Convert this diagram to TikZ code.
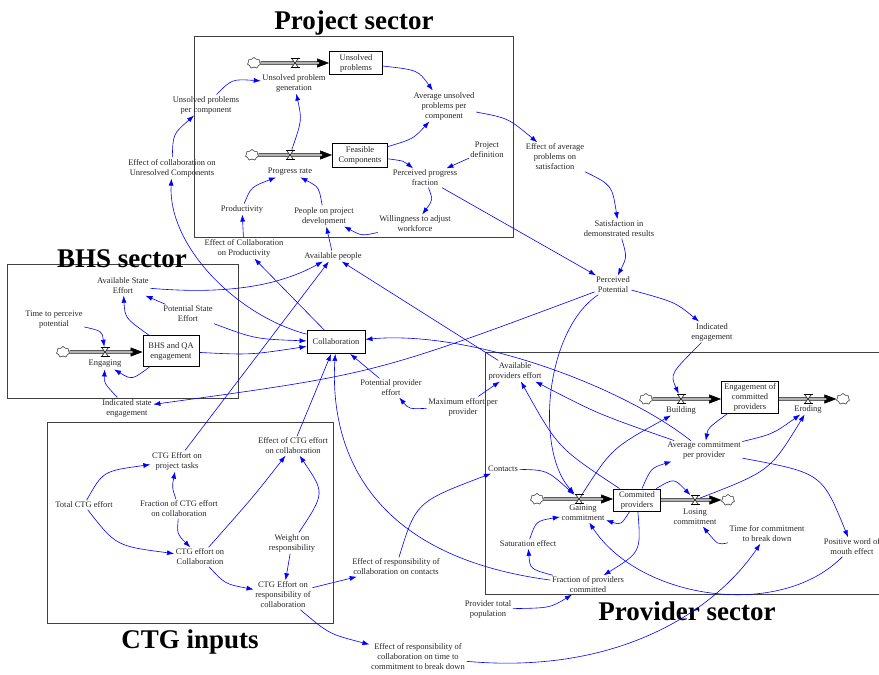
\documentclass[tikz,border=0pt]{standalone}
\usepackage{fontspec}
\setmainfont{Liberation Serif}
\usetikzlibrary{arrows.meta,shapes.symbols,calc}

\tikzset{
  pics/hglass/.style={code={
    \draw[fill=white, line width=0.5pt] (-3.5,-4.5) -- (3.5,-4.5) -- (-3.5,4.5) -- (3.5,4.5) -- cycle;
    \draw[line width=0.8pt] (-4.5,-4.5) -- (4.5,-4.5) (-4.5,4.5) -- (4.5,4.5);
  }}
}

\begin{document}
\begin{tikzpicture}[x=1pt,y=-1pt,
  var/.style={font=\fontsize{8.5}{10}\selectfont, text=black!85, align=center, inner sep=1.5pt},
  stock/.style={var, draw=black, line width=0.9pt, fill=white, inner sep=1pt},
  link/.style={draw=blue, line width=0.6pt, -{Latex[length=7pt,width=5pt]}},
  sector/.style={draw=black!75, line width=0.9pt},
  sectitle/.style={font=\fontsize{27}{30}\selectfont\bfseries, anchor=base, inner sep=0},
  pipe/.style={draw=black, line width=0.7pt, double=black!30, double distance=2pt},
  pipetip/.style={draw=black, line width=0.5pt, -{Triangle[length=12pt,width=9pt]}},
  cloudnode/.style={cloud, cloud puffs=7, aspect=1.3, draw=black!70, fill=white, line width=0.5pt, minimum width=13pt, minimum height=11pt, inner sep=0},
  vnode/.style={inner sep=0, minimum width=9pt, minimum height=10pt}
]
\useasboundingbox (0,0) rectangle (879,675);

% ---------- sector frames and titles ----------
\draw[sector] (194,36) rectangle (513,237);
\draw[sector] (7,264) rectangle (238,398);
\draw[sector] (47,422) rectangle (333,623);
\draw[sector] (485,352) rectangle (890,594);

\node[sectitle] (tPS) at (354,29) {Project sector};
\node[sectitle] (tBHS) at (122,267) {BHS sector};
\node[sectitle] (tCTG) at (190,648) {CTG inputs};
\node[sectitle] (tPRS) at (687,620) {Provider sector};

% ---------- stocks ----------
\node[stock, minimum width=53pt, minimum height=23pt] (UP) at (356,63) {Unsolved\\problems};
\node[stock, minimum width=55pt, minimum height=24pt] (FC) at (360,155) {Feasible\\Components};
\node[stock, minimum width=56pt, minimum height=31pt] (BHS) at (171,351) {BHS and QA\\engagement};
\node[stock, minimum width=58pt, minimum height=23pt] (COL) at (336,342) {Collaboration};
\node[stock, minimum width=57pt, minimum height=32pt] (ECPR) at (750,397) {Engagement of\\committed\\providers};
\node[stock, minimum width=47pt, minimum height=22pt] (CP) at (637,500) {Commited\\providers};

% ---------- valves (positions) ----------
\node[vnode] (vUP) at (295,63) {};
\node[vnode] (vPR) at (290,155) {};
\node[vnode] (vENG) at (105,352) {};
\node[vnode] (vBLD) at (681,399) {};
\node[vnode] (vERO) at (808,399) {};
\node[vnode] (vGC) at (579,499) {};
\node[vnode] (vLC) at (695,500) {};

% ---------- clouds ----------
\node[cloudnode] (cUP) at (254,63) {};
\node[cloudnode] (cPR) at (252,155) {};
\node[cloudnode] (cENG) at (63,352) {};
\node[cloudnode] (cBLD) at (646,399) {};
\node[cloudnode] (cERO) at (843,399) {};
\node[cloudnode] (cGC) at (537,499) {};
\node[cloudnode] (cLC) at (728,500) {};

% ---------- flow pipes ----------
\draw[pipetip] (vUP) -- (UP.west |- vUP);
\draw[pipe, shorten >=10pt] (cUP) -- (UP.west |- cUP);
\draw[pipetip] (vPR) -- (FC.west |- vPR);
\draw[pipe, shorten >=10pt] (cPR) -- (FC.west |- cPR);
\draw[pipetip] (vENG) -- (BHS.west |- vENG);
\draw[pipe, shorten >=10pt] (cENG) -- (BHS.west |- cENG);
\draw[pipetip] (vBLD) -- (ECPR.west |- vBLD);
\draw[pipe, shorten >=10pt] (cBLD) -- (ECPR.west |- cBLD);
\draw[pipetip] (vERO) -- (cERO);
\draw[pipe, shorten >=10pt] (ECPR.east |- vERO) -- (cERO);
\draw[pipetip] (vGC) -- (CP.west |- vGC);
\draw[pipe, shorten >=10pt] (cGC) -- (CP.west |- cGC);
\draw[pipetip] (vLC) -- (cLC);
\draw[pipe, shorten >=10pt] (CP.east |- vLC) -- (cLC);

% clouds over the pipe ends, then the valves
\foreach \c in {cUP,cPR,cENG,cBLD,cERO,cGC,cLC} \node[cloudnode] at (\c) {};
\foreach \v in {vUP,vPR,vENG,vBLD,vERO,vGC,vLC} \pic at (\v) {hglass};

% ---------- project sector variables ----------
\node[var] (UPG) at (294,83) {Unsolved problem\\generation};
\node[var] (PR) at (290,172) {Progress rate};
\node[var] (AUP) at (444,106) {Average unsolved\\problems per\\component};
\node[var] (PD) at (487,150) {Project\\definition};
\node[var] (PPF) at (425,178) {Perceived progress\\fraction};
\node[var] (PROD) at (242,209) {Productivity};
\node[var] (PPD) at (324,216) {People on project\\development};
\node[var] (WAW) at (415,224) {Willingness to adjust\\workforce};
\node[var] (UPPC) at (206,105) {Unsolved problems\\per component};
\node[var] (ECUC) at (172,168) {Effect of collaboration on\\Unresolved Components};
\node[var] (ECP) at (244,248) {Effect of Collaboration\\on Productivity};
\node[var] (AVP) at (333,256) {Available people};

% ---------- BHS sector variables ----------
\node[var] (ASE) at (123,286) {Available State\\Effort};
\node[var] (PSE) at (188,314) {Potential State\\Effort};
\node[var] (TPP) at (54,320) {Time to perceive\\potential};
\node[var] (ENG) at (105,364) {Engaging};
\node[var] (ISE) at (127,408) {Indicated state\\engagement};

% ---------- middle variables ----------
\node[var] (PPE) at (391,388) {Potential provider\\effort};
\node[var] (MEP) at (463,407) {Maximum effort per\\provider};
\node[var] (APE) at (515,371) {Available\\providers effort};
\node[var] (EAPS) at (555,157) {Effect of average\\problems on\\satisfaction};
\node[var] (SDR) at (619,229) {Satisfaction in\\demonstrated results};
\node[var] (PP) at (613,285) {Perceived\\Potential};
\node[var] (IE) at (712,332) {Indicated\\engagement};

% ---------- provider sector variables ----------
\node[var] (BLD) at (681,410) {Building};
\node[var] (ERO) at (808,409) {Eroding};
\node[var] (ACP) at (704,451) {Average commitment\\per provider};
\node[var] (CON) at (503,469) {Contacts};
\node[var] (GC) at (583,513) {Gaining\\commitment};
\node[var] (LC) at (695,517) {Losing\\commitment};
\node[var] (TCB) at (767,534) {Time for commitment\\to break down};
\node[var] (PWM) at (852,547) {Positive word of\\mouth effect};
\node[var] (SAT) at (528,544) {Saturation effect};
\node[var] (FPC) at (588,585) {Fraction of providers\\committed};
\node[var] (PTP) at (488,609) {Provider total\\population};

% ---------- CTG inputs variables ----------
\node[var] (CEPT) at (177,461) {CTG Effort on\\project tasks};
\node[var] (TCE) at (84,505) {Total CTG effort};
\node[var] (FCE) at (179,509) {Fraction of CTG effort\\on collaboration};
\node[var] (CEC) at (200,557) {CTG effort on\\Collaboration};
\node[var] (ECEC) at (293,446) {Effect of CTG effort\\on collaboration};
\node[var] (WR) at (292,543) {Weight on\\responsibility};
\node[var] (CERC) at (283,595) {CTG Effort on\\responsibility of\\collaboration};
\node[var] (ERCC) at (396,567) {Effect of responsibility of\\collaboration on contacts};
\node[var] (ERCT) at (418,657) {Effect of responsibility of\\collaboration on time to\\commitment to break down};

% ---------- links: project sector ----------
\draw[link] (UP) .. controls (418,70) .. (AUP);
\draw[link] (FC) .. controls (413,139) .. (AUP);
\draw[link] (FC) .. controls (404,161) .. (PPF);
\draw[link] (PD) -- (PPF);
\draw[link] (PPF) .. controls (433,200) .. (WAW);
\draw[link] (WAW) .. controls (362,236) .. (PPD);
\draw[link] (PROD) .. controls (251,187) .. (PR);
\draw[link] (PPD) .. controls (319,187) .. (PR);
\draw[link] (vPR) .. controls (302,120) .. (UPG);
\draw[link] (UPPC) .. controls (232,79) .. (UPG);
\draw[link] (ECUC) .. controls (173,134) .. (UPPC);
\draw[link] (COL) .. controls (235,315) and (168,245) .. (ECUC);
\draw[link] (COL) -- (ECP);
\draw[link] (ECP) -- (PROD);
\draw[link] (AVP) -- (PPD);
\draw[link] (ASE) .. controls (230,295) and (280,285) .. (AVP);
\draw[link] (CEPT) -- (AVP);
\draw[link] (APE) -- (AVP);

% ---------- links: BHS sector ----------
\draw[link] (PSE) -- (ASE);
\draw[link] (PSE) .. controls (255,339) .. (COL);
\draw[link] (BHS) .. controls (250,355) .. (COL);
\draw[link] (BHS) .. controls (125,318) .. (ASE);
\draw[link] (TPP) .. controls (102,331) .. (vENG);
\draw[link] (BHS) .. controls (132,380) .. (ENG);
\draw[link] (ISE) .. controls (104,383) .. (ENG);

% ---------- links: perceived potential chain ----------
\draw[link] (PP) .. controls (375,374) .. (ISE);
\draw[link] (PPF) -- (PP);
\draw[link] (SDR) .. controls (627,257) .. (PP);
\draw[link] (EAPS) .. controls (612,185) .. (SDR);
\draw[link] (AUP) .. controls (508,118) .. (EAPS);
\draw[link] (PP) .. controls (675,302) .. (IE);
\draw[link] (IE) .. controls (670,374) .. (vBLD);
\draw[link] (PP) .. controls (545,330) and (535,450) .. (vGC);
\draw[link] (MEP) -- (APE);
\draw[link] (MEP) .. controls (409,409) .. (PPE);
\draw[link] (PPE) -- (COL);
\draw[link] (ACP) .. controls (620,385) and (470,330) .. (COL);

% ---------- links: CTG inputs ----------
\draw[link] (TCE) .. controls (103,471) .. (CEPT);
\draw[link] (TCE) .. controls (116,546) .. (CEC);
\draw[link] (FCE) .. controls (172,487) .. (CEPT);
\draw[link] (FCE) .. controls (177,534) .. (CEC);
\draw[link] (CEC) .. controls (254,496) .. (ECEC);
\draw[link] (WR) .. controls (325,493) .. (ECEC);
\draw[link] (WR) -- (CERC);
\draw[link] (CEC) .. controls (225,584) .. (CERC);
\draw[link] (CERC) -- (ERCC);
\draw[link] (CERC) .. controls (329,634) .. (ERCT);
\draw[link] (ERCC) .. controls (416,502) .. (CON);
\draw[link] (ECEC) -- (COL);
\draw[link] (FPC) .. controls (360,555) and (330,440) .. (COL);
\draw[link] (ERCT) .. controls (620,675) and (715,610) .. (TCB);

% ---------- links: provider sector ----------
\draw[link] (ECPR) .. controls (708,428) .. (ACP);
\draw[link] (CP) .. controls (651,468) .. (ACP);
\draw[link] (ACP) .. controls (773,434) .. (ERO);
\draw[link] (vLC) .. controls (770,471) .. (ERO);
\draw[link] (vGC) .. controls (612,448) .. (BLD);
\draw[link] (ACP) .. controls (822,473) .. (PWM);
\draw[link] (PWM) .. controls (780,620) and (640,600) .. (GC);
\draw[link] (CP) .. controls (674,478) .. (vLC);
\draw[link] (TCB) .. controls (718,545) .. (LC);
\draw[link] (CON) .. controls (547,470) .. (vGC);
\draw[link] (CP) .. controls (621,525) .. (GC);
\draw[link] (CP) .. controls (641,552) .. (FPC);
\draw[link] (SAT) .. controls (536,521) .. (GC);
\draw[link] (FPC) .. controls (530,569) .. (SAT);
\draw[link] (PTP) .. controls (550,608) .. (FPC);
\draw[link] (CP) .. controls (558,448) .. (APE);
\draw[link] (ACP) .. controls (598,414) .. (APE);
\end{tikzpicture}
\end{document}
